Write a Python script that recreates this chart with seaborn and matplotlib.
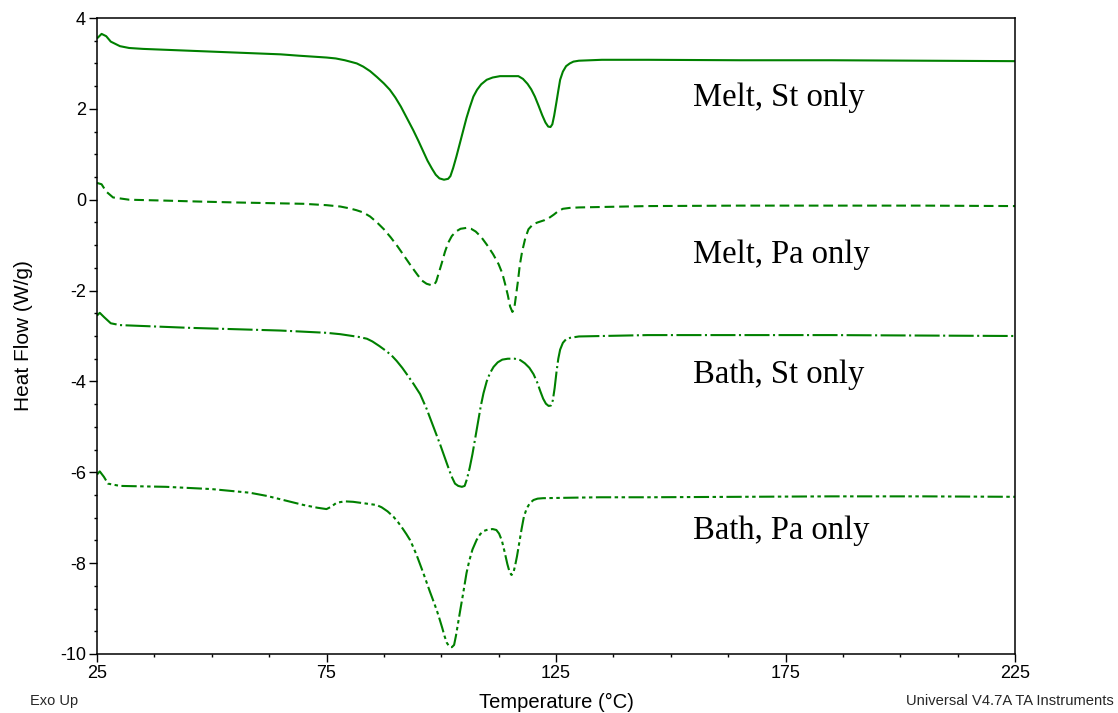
import matplotlib
matplotlib.use("Agg")
import matplotlib.pyplot as plt
from matplotlib.ticker import FixedLocator, MultipleLocator
import seaborn as sns
import pandas as pd

# ---- data ----
melt_st_x = [25, 26, 27, 28, 30, 32, 35, 45, 55, 65, 69, 72, 75, 77, 79, 80.5, 81.6, 83, 84.5, 86,
             87.5, 88.8, 90, 91.2, 92.5, 93.9, 95, 96, 97, 98, 98.8, 99.6, 100.6, 101.5, 102, 102.6,
             103.3, 104, 104.8, 105.5, 106.2, 107, 107.8, 108.7, 109.9, 111.2, 112.8, 116.8, 117.8,
             118.8, 119.6, 120.4, 121.2, 122, 122.7, 123.3, 123.8, 124.2, 124.6, 125.1, 125.5, 125.9,
             126.5, 127.2, 128, 128.8, 130, 135, 145, 165, 185, 205, 225]
melt_st_y = [3.55, 3.65, 3.6, 3.48, 3.38, 3.34, 3.32, 3.28, 3.24, 3.2, 3.17, 3.15, 3.13, 3.11, 3.07,
             3.03, 3.0, 2.93, 2.83, 2.7, 2.56, 2.42, 2.25, 2.05, 1.8, 1.53, 1.3, 1.08, 0.86, 0.68,
             0.55, 0.47, 0.44, 0.46, 0.52, 0.7, 0.95, 1.22, 1.53, 1.8, 2.03, 2.27, 2.42, 2.54, 2.64,
             2.69, 2.72, 2.72, 2.66, 2.55, 2.43, 2.27, 2.07, 1.86, 1.7, 1.61, 1.6, 1.66, 1.85, 2.15,
             2.4, 2.64, 2.82, 2.94, 3.0, 3.04, 3.06, 3.08, 3.08, 3.07, 3.07, 3.06, 3.05]

melt_pa_x = [25, 26, 27, 28.5, 32, 40, 47, 55, 65, 70, 75, 78, 80, 81.5, 83, 84.5, 86, 87.5, 89,
             90.5, 92, 93.5, 94.8, 95.8, 96.8, 97.8, 98.4, 98.9, 99.5, 100.1, 100.8, 101.5, 102.3,
             103.2, 104.2, 105.5, 106.5, 107.5, 108.7, 110, 111.3, 112.5, 113.3, 113.9, 114.5, 115,
             115.5, 115.9, 116.3, 116.7, 117.1, 117.6, 118.3, 119, 120, 121, 122.5, 123.5, 124.5,
             125.5, 126.5, 128, 130, 145, 165, 185, 205, 225]
melt_pa_y = [0.37, 0.34, 0.18, 0.05, 0.0, -0.02, -0.04, -0.06, -0.08, -0.09, -0.12, -0.15, -0.19,
             -0.23, -0.28, -0.37, -0.5, -0.65, -0.83, -1.03, -1.25, -1.47, -1.65, -1.78, -1.85,
             -1.88, -1.88, -1.8, -1.6, -1.4, -1.15, -0.95, -0.8, -0.7, -0.64, -0.62, -0.64, -0.7,
             -0.82, -1.0, -1.2, -1.42, -1.62, -1.85, -2.1, -2.35, -2.47, -2.4, -2.1, -1.8, -1.45,
             -1.15, -0.85, -0.65, -0.54, -0.5, -0.45, -0.4, -0.33, -0.25, -0.2, -0.18, -0.17,
             -0.14, -0.13, -0.13, -0.13, -0.14]

bath_st_x = [25, 25.6, 26.5, 28, 30, 35, 45, 55, 65, 69, 75, 78, 80, 82, 83.8, 85, 86.5, 88, 89.2,
             90.3, 91.5, 92.7, 94, 95.4, 96.8, 98.3, 99.8, 101.2, 102.2, 103, 103.7, 104.5, 105.1,
             105.6, 106.2, 106.8, 107.4, 108, 108.6, 109.2, 109.9, 110.6, 111.4, 112.3, 113.3,
             114.5, 116, 117.2, 118.2, 119.2, 120.1, 120.9, 121.6, 122.2, 122.8, 123.4, 123.9,
             124.3, 124.7, 125.1, 125.5, 125.9, 126.5, 127.2, 128.1, 130, 145, 165, 185, 205, 225]
bath_st_y = [-2.55, -2.49, -2.58, -2.72, -2.76, -2.78, -2.82, -2.85, -2.88, -2.9, -2.93, -2.96,
             -2.99, -3.02, -3.06, -3.12, -3.22, -3.33, -3.43, -3.55, -3.7, -3.87, -4.06, -4.28,
             -4.6, -5.0, -5.4, -5.8, -6.08, -6.25, -6.3, -6.32, -6.3, -6.15, -5.9, -5.6, -5.25,
             -4.9, -4.55, -4.26, -4.0, -3.82, -3.68, -3.58, -3.52, -3.5, -3.5, -3.53, -3.6, -3.7,
             -3.84, -4.02, -4.22, -4.38, -4.49, -4.54, -4.53, -4.42, -4.15, -3.8, -3.5, -3.3,
             -3.15, -3.07, -3.04, -3.01, -2.98, -2.98, -2.98, -2.99, -3.0]

bath_pa_x = [25, 25.6, 26.5, 27.4, 30, 40, 50, 58.3, 62, 65.6, 70, 73, 75, 76, 77.2, 79, 80.8, 83,
             85.9, 87, 88.3, 89.6, 90.6, 91.6, 92.4, 93.2, 94, 94.7, 95.4, 96.1, 96.8, 97.5, 98.2,
             99, 99.6, 100.2, 100.7, 101.2, 101.7, 102.3, 102.8, 103.2, 103.7, 104.2, 104.8, 105.5,
             106.1, 106.8, 107.7, 108.5, 109.3, 110.2, 111.2, 112, 112.6, 113.2, 113.8, 114.4,
             114.9, 115.3, 115.7, 116.1, 116.5, 117, 117.5, 118, 118.6, 119.3, 120.1, 121, 122.2,
             128, 134.6, 145, 165, 185, 205, 225]
bath_pa_y = [-6.05, -5.98, -6.1, -6.25, -6.3, -6.32, -6.37, -6.45, -6.52, -6.61, -6.72, -6.78,
             -6.81, -6.76, -6.67, -6.64, -6.65, -6.68, -6.72, -6.77, -6.86, -6.98, -7.1, -7.24,
             -7.36, -7.49, -7.67, -7.84, -8.03, -8.22, -8.42, -8.62, -8.81, -9.03, -9.22, -9.42,
             -9.6, -9.75, -9.83, -9.85, -9.8, -9.6, -9.3, -9.0, -8.65, -8.22, -7.95, -7.7, -7.49,
             -7.36, -7.29, -7.26, -7.25, -7.27, -7.35, -7.5, -7.75, -8.02, -8.2, -8.26, -8.22,
             -8.05, -7.85, -7.55, -7.25, -6.98, -6.8, -6.68, -6.61, -6.58, -6.57, -6.56, -6.55,
             -6.55, -6.54, -6.53, -6.53, -6.54]

curve_labels = ["Melt, St only", "Melt, Pa only", "Bath, St only", "Bath, Pa only"]
label_y = [2.06, -1.39, -4.03, -7.47]
label_x = 154.8

x_ticks = [25, 75, 125, 175, 225]
y_ticks = [-10, -8, -6, -4, -2, 0, 2, 4]

# ---- styling ----
sns.set_theme(style="white")
plt.rcParams["font.family"] = ["Liberation Sans", "DejaVu Sans"]
plt.rcParams["axes.unicode_minus"] = False
plt.rcParams["lines.scale_dashes"] = False

GREEN = "#008000"
fig = plt.figure(figsize=(11.18, 7.13), dpi=100)
ax = fig.add_axes([97 / 1118, 1 - 654 / 713, (1015 - 97) / 1118, (654 - 18) / 713])

series = [
    (melt_st_x, melt_st_y, (0, ())),
    (melt_pa_x, melt_pa_y, (0, (7, 3.5))),
    (bath_st_x, bath_st_y, (0, (18, 2.5, 1.5, 2.5))),
    (bath_pa_x, bath_pa_y, (0, (11, 2.5, 2.5, 2.5, 2.5, 2.5))),
]
for xs, ys, ls in series:
    df = pd.DataFrame({"T": xs, "HF": ys})
    sns.lineplot(data=df, x="T", y="HF", ax=ax, sort=False, estimator=None,
                 color=GREEN, linewidth=1.5)
    ax.lines[-1].set_linestyle(ls)
    ax.lines[-1].set_solid_joinstyle("round")
    ax.lines[-1].set_dash_joinstyle("round")

for lab, ly in zip(curve_labels, label_y):
    ax.text(label_x, ly, lab, fontsize=23.5, family=["Liberation Serif", "DejaVu Serif"],
            ha="left", va="baseline", color="black")

ax.set_xlim(25, 225)
ax.set_ylim(-10, 4)
ax.xaxis.set_major_locator(FixedLocator(x_ticks))
ax.xaxis.set_minor_locator(MultipleLocator(12.5))
ax.yaxis.set_major_locator(FixedLocator(y_ticks))
ax.yaxis.set_minor_locator(MultipleLocator(0.5))
ax.tick_params(axis="both", which="major", direction="out", length=6, width=1.0,
               labelsize=13, color="black", labelcolor="black", pad=2,
               bottom=True, left=True)
ax.tick_params(axis="both", which="minor", direction="out", length=2.5, width=1.0,
               color="black", bottom=True, left=True)
for s in ax.spines.values():
    s.set_visible(True)
    s.set_color("black")
    s.set_linewidth(1.1)

ax.set_xlabel("Temperature (°C)", fontsize=14.5, color="black")
ax.xaxis.set_label_coords(0.5, -(693 - 654) / 636)
ax.set_ylabel("Heat Flow (W/g)", fontsize=15, color="black")
ax.yaxis.set_label_coords((33 - 97) / 918, 0.5)
ax.grid(False)

fig.text(30 / 1118, 1 - 705 / 713, "Exo Up", fontsize=10.5, ha="left", va="baseline")
fig.text(1114 / 1118, 1 - 705 / 713, "Universal V4.7A TA Instruments", fontsize=10.6,
         ha="right", va="baseline")

fig.savefig("out.png", dpi=100)
